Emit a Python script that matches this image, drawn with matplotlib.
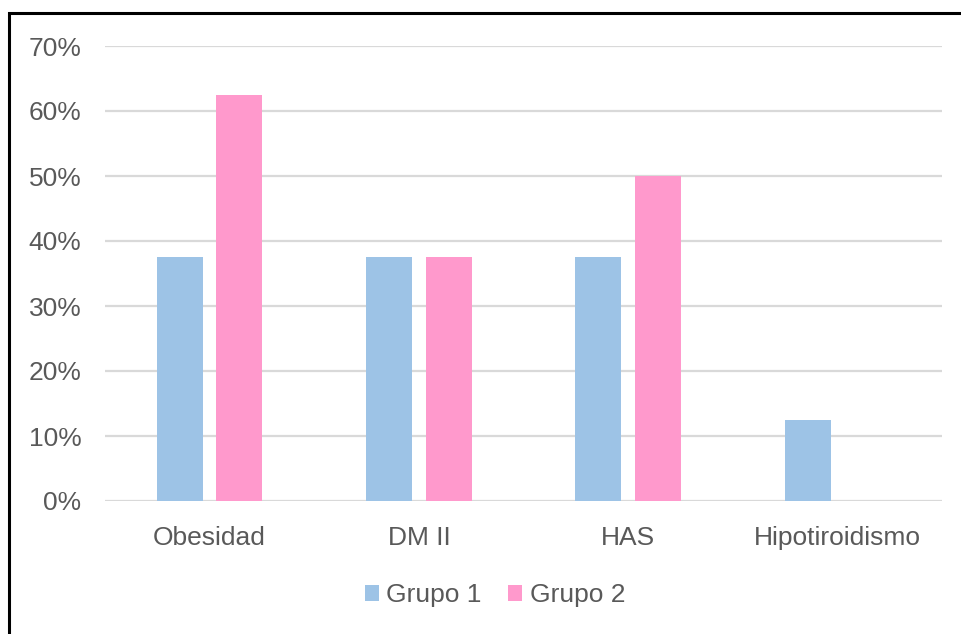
import matplotlib
matplotlib.use("Agg")
import matplotlib.pyplot as plt
from matplotlib.patches import Rectangle
from matplotlib.ticker import FuncFormatter
import numpy as np

categories = ["Obesidad", "DM II", "HAS", "Hipotiroidismo"]
grupo1 = [37.5, 37.5, 37.5, 12.5]
grupo2 = [62.5, 37.5, 50.0, 0.0]
series_names = ["Grupo 1", "Grupo 2"]
colors = ["#9DC3E6", "#FF99CC"]
text_color = "#595959"
grid_color = "#D9D9D9"

plt.rcParams["font.family"] = ["Liberation Sans", "DejaVu Sans"]

W, H = 961, 634
fig = plt.figure(figsize=(W / 100, H / 100), dpi=100)
fig.patch.set_facecolor("white")

# outer frame (left and top edges visible)
fig.patches.append(Rectangle((9 / W, -0.1), 1.2, (H - 13) / H + 0.1,
                             transform=fig.transFigure, fill=False,
                             edgecolor="black", linewidth=2.2))

ax = fig.add_axes([105 / W, (H - 501) / H, (942 - 105) / W, (501 - 46) / H])
x = np.arange(len(categories))
bw = 0.22
gap = 0.065
ax.bar(x - (bw + gap) / 2, grupo1, bw, color=colors[0], label=series_names[0], zorder=3)
ax.bar(x + (bw + gap) / 2, grupo2, bw, color=colors[1], label=series_names[1], zorder=3)

ax.set_xlim(-0.5, len(categories) - 0.5)
ax.set_ylim(0, 70)
ax.set_yticks(np.arange(0, 71, 10))
ax.yaxis.set_major_formatter(FuncFormatter(lambda v, p: f"{v:.0f}%"))
ax.set_xticks(x)
ax.set_xticklabels(categories)
ax.grid(axis="y", color=grid_color, linewidth=1.6, zorder=0)
for s in ax.spines.values():
    s.set_visible(False)
ax.tick_params(axis="both", length=0, labelsize=19, colors=text_color)
ax.tick_params(axis="y", pad=17)
ax.tick_params(axis="x", pad=18)

fig.legend(loc="center", bbox_to_anchor=(495 / W, (H - 595) / H), ncol=2,
           frameon=False, fontsize=19, labelcolor=text_color,
           handlelength=0.54, handleheight=0.54, handletextpad=0.27,
           columnspacing=1.0)

fig.savefig("out.png", dpi=100, facecolor="white")
